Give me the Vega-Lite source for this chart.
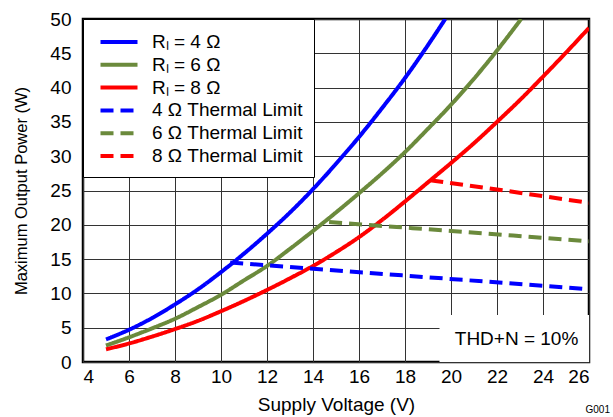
{
  "$schema": "https://vega.github.io/schema/vega-lite/v6.json",
  "autosize": "none",
  "width": 506,
  "height": 343,
  "padding": {"left": 83, "top": 19, "right": 24, "bottom": 55},
  "background": "white",
  "config": {
    "font": "Liberation Sans",
    "view": {"stroke": "black", "strokeWidth": 2.5},
    "axis": {
      "labelFont": "Liberation Sans", "titleFont": "Liberation Sans",
      "labelFontSize": 19, "titleFontSize": 19, "labelColor": "black", "titleColor": "black",
      "titleFontWeight": "normal", "ticks": false, "domain": false, "labelOverlap": false,
      "grid": true, "gridColor": "#333333", "gridWidth": 1
    }
  },
  "title": {"text": "G001", "orient": "bottom", "anchor": "end", "fontSize": 10, "fontWeight": "normal", "color": "black", "offset": -9, "dx": 21},
  "datasets": {
    "curves": [
      {"V": 5, "P": 3.3, "series": "R\u2097 = 4 Ω"},
      {"V": 6, "P": 4.7, "series": "R\u2097 = 4 Ω"},
      {"V": 7, "P": 6.4, "series": "R\u2097 = 4 Ω"},
      {"V": 8, "P": 8.4, "series": "R\u2097 = 4 Ω"},
      {"V": 9, "P": 10.6, "series": "R\u2097 = 4 Ω"},
      {"V": 10, "P": 13.1, "series": "R\u2097 = 4 Ω"},
      {"V": 11, "P": 15.8, "series": "R\u2097 = 4 Ω"},
      {"V": 12, "P": 18.7, "series": "R\u2097 = 4 Ω"},
      {"V": 13, "P": 21.8, "series": "R\u2097 = 4 Ω"},
      {"V": 14, "P": 25.2, "series": "R\u2097 = 4 Ω"},
      {"V": 15, "P": 28.9, "series": "R\u2097 = 4 Ω"},
      {"V": 16, "P": 32.8, "series": "R\u2097 = 4 Ω"},
      {"V": 17, "P": 37.0, "series": "R\u2097 = 4 Ω"},
      {"V": 18, "P": 41.4, "series": "R\u2097 = 4 Ω"},
      {"V": 19, "P": 46.2, "series": "R\u2097 = 4 Ω"},
      {"V": 19.75, "P": 50, "series": "R\u2097 = 4 Ω"},
      {"V": 5, "P": 2.4, "series": "R\u2097 = 6 Ω"},
      {"V": 6, "P": 3.6, "series": "R\u2097 = 6 Ω"},
      {"V": 7, "P": 4.9, "series": "R\u2097 = 6 Ω"},
      {"V": 8, "P": 6.3, "series": "R\u2097 = 6 Ω"},
      {"V": 9, "P": 8.0, "series": "R\u2097 = 6 Ω"},
      {"V": 10, "P": 9.8, "series": "R\u2097 = 6 Ω"},
      {"V": 11, "P": 11.9, "series": "R\u2097 = 6 Ω"},
      {"V": 12, "P": 14.0, "series": "R\u2097 = 6 Ω"},
      {"V": 13, "P": 16.5, "series": "R\u2097 = 6 Ω"},
      {"V": 14, "P": 19.1, "series": "R\u2097 = 6 Ω"},
      {"V": 15, "P": 21.8, "series": "R\u2097 = 6 Ω"},
      {"V": 16, "P": 24.6, "series": "R\u2097 = 6 Ω"},
      {"V": 17, "P": 27.5, "series": "R\u2097 = 6 Ω"},
      {"V": 18, "P": 30.6, "series": "R\u2097 = 6 Ω"},
      {"V": 19, "P": 34.0, "series": "R\u2097 = 6 Ω"},
      {"V": 20, "P": 37.5, "series": "R\u2097 = 6 Ω"},
      {"V": 21, "P": 41.3, "series": "R\u2097 = 6 Ω"},
      {"V": 22, "P": 45.4, "series": "R\u2097 = 6 Ω"},
      {"V": 23.05, "P": 50, "series": "R\u2097 = 6 Ω"},
      {"V": 5, "P": 1.85, "series": "R\u2097 = 8 Ω"},
      {"V": 6, "P": 2.7, "series": "R\u2097 = 8 Ω"},
      {"V": 7, "P": 3.7, "series": "R\u2097 = 8 Ω"},
      {"V": 8, "P": 4.8, "series": "R\u2097 = 8 Ω"},
      {"V": 9, "P": 6.0, "series": "R\u2097 = 8 Ω"},
      {"V": 10, "P": 7.4, "series": "R\u2097 = 8 Ω"},
      {"V": 11, "P": 8.9, "series": "R\u2097 = 8 Ω"},
      {"V": 12, "P": 10.5, "series": "R\u2097 = 8 Ω"},
      {"V": 13, "P": 12.2, "series": "R\u2097 = 8 Ω"},
      {"V": 14, "P": 14.0, "series": "R\u2097 = 8 Ω"},
      {"V": 15, "P": 16.0, "series": "R\u2097 = 8 Ω"},
      {"V": 16, "P": 18.2, "series": "R\u2097 = 8 Ω"},
      {"V": 17, "P": 20.7, "series": "R\u2097 = 8 Ω"},
      {"V": 18, "P": 23.4, "series": "R\u2097 = 8 Ω"},
      {"V": 19, "P": 26.2, "series": "R\u2097 = 8 Ω"},
      {"V": 20, "P": 29.0, "series": "R\u2097 = 8 Ω"},
      {"V": 21, "P": 31.9, "series": "R\u2097 = 8 Ω"},
      {"V": 22, "P": 35.0, "series": "R\u2097 = 8 Ω"},
      {"V": 23, "P": 38.2, "series": "R\u2097 = 8 Ω"},
      {"V": 24, "P": 41.6, "series": "R\u2097 = 8 Ω"},
      {"V": 25, "P": 45.1, "series": "R\u2097 = 8 Ω"},
      {"V": 26, "P": 48.7, "series": "R\u2097 = 8 Ω"},
      {"V": 10.4, "P": 14.5, "series": "4 Ω Thermal Limit"},
      {"V": 18, "P": 12.6, "series": "4 Ω Thermal Limit"},
      {"V": 26, "P": 10.6, "series": "4 Ω Thermal Limit"},
      {"V": 14.7, "P": 20.4, "series": "6 Ω Thermal Limit"},
      {"V": 20, "P": 19.1, "series": "6 Ω Thermal Limit"},
      {"V": 26, "P": 17.6, "series": "6 Ω Thermal Limit"},
      {"V": 19.1, "P": 26.5, "series": "8 Ω Thermal Limit"},
      {"V": 22.5, "P": 24.9, "series": "8 Ω Thermal Limit"},
      {"V": 26, "P": 23.2, "series": "8 Ω Thermal Limit"}
    ],
    "box": [{"V": 19.5, "V2": 26, "P": 0, "P2": 6.85}],
    "note": [{"V": 22.85, "P": 3.3, "label": "THD+N = 10%"}]
  },
  "encoding": {
    "x": {"field": "V", "type": "quantitative", "title": "Supply Voltage (V)",
          "scale": {"domain": [4, 26], "nice": false, "zero": false},
          "axis": {"values": [4, 6, 8, 10, 12, 14, 16, 18, 20, 22, 24, 26], "labelPadding": 5, "titlePadding": 9, "labelOverlap": false}},
    "y": {"field": "P", "type": "quantitative", "title": "Maximum Output Power (W)",
          "scale": {"domain": [0, 50], "nice": false},
          "axis": {"values": [0, 5, 10, 15, 20, 25, 30, 35, 40, 45, 50], "labelPadding": 12, "titlePadding": 20, "titleFontSize": 16.5, "labelOverlap": false, "labelFlush": false, "labelSeparation": 0}}
  },
  "layer": [
    {
      "data": {"name": "box"},
      "mark": {"type": "rect", "fill": "white", "stroke": null},
      "encoding": {"x2": {"field": "V2"}, "y2": {"field": "P2"}}
    },
    {
      "data": {"name": "note"},
      "mark": {"type": "text", "fontSize": 19, "color": "black", "font": "Liberation Sans"},
      "encoding": {"text": {"field": "label"}}
    },
    {
      "data": {"name": "curves"},
      "mark": {"type": "line", "strokeWidth": 4, "interpolate": "monotone", "clip": true},
      "encoding": {
        "color": {"field": "series", "type": "nominal",
          "scale": {"domain": ["R\u2097 = 4 Ω", "R\u2097 = 6 Ω", "R\u2097 = 8 Ω", "4 Ω Thermal Limit", "6 Ω Thermal Limit", "8 Ω Thermal Limit"],
                    "range": ["#0000FF", "#6B8A3C", "#FF0000", "#0000FF", "#6B8A3C", "#FF0000"]},
          "legend": {"title": null, "orient": "none", "legendX": 0, "legendY": 0,
                     "fillColor": "white", "strokeColor": "black", "padding": 11,
                     "symbolType": "M-0.55,0H3.15", "symbolSize": 400, "symbolStrokeWidth": 4,
                     "labelFontSize": 19, "labelFont": "Liberation Sans", "labelColor": "black",
                     "rowPadding": 0.8, "labelOffset": 34, "labelLimit": 300}},
        "strokeDash": {"field": "series", "type": "nominal",
          "scale": {"domain": ["R\u2097 = 4 Ω", "R\u2097 = 6 Ω", "R\u2097 = 8 Ω", "4 Ω Thermal Limit", "6 Ω Thermal Limit", "8 Ω Thermal Limit"],
                    "range": [[1, 0], [1, 0], [1, 0], [13, 7], [13, 7], [13, 7]]},
          "legend": {"title": null, "orient": "none", "legendX": 0, "legendY": 0,
                     "fillColor": "white", "strokeColor": "black", "padding": 11,
                     "symbolType": "M-0.55,0H3.15", "symbolSize": 400, "symbolStrokeWidth": 4,
                     "labelFontSize": 19, "labelFont": "Liberation Sans", "labelColor": "black",
                     "rowPadding": 0.8, "labelOffset": 34, "labelLimit": 300}},
        "order": {"field": "V", "type": "quantitative"}
      }
    }
  ]
}
